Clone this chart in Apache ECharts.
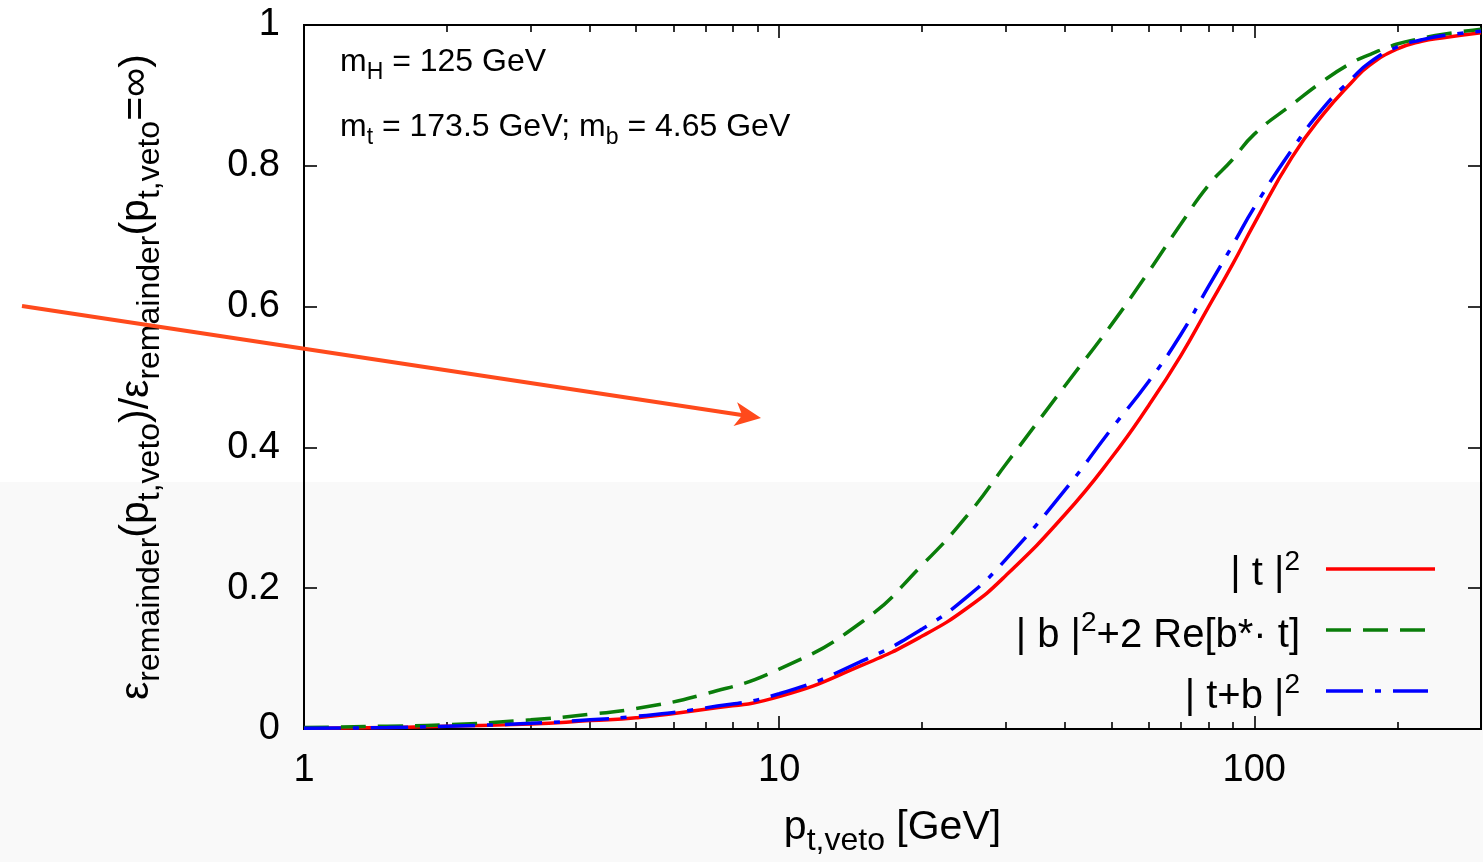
<!DOCTYPE html>
<html>
<head>
<meta charset="utf-8">
<script src="https://cdn.jsdelivr.net/npm/echarts@6/dist/echarts.min.js"></script>
<style>
html,body{margin:0;padding:0;background:#fff;}
#chart{width:1483px;height:862px;}
</style>
</head>
<body>
<div id="chart"></div>
<script>
// ---- data ----
const ptVeto = [1, 1.5, 2, 3, 4, 5, 7, 10, 15, 20, 25, 30, 40, 50, 60, 70, 80, 90, 100, 120, 140, 160, 175, 200, 225, 250, 300];
const tSquared = [0.001, 0.002, 0.004, 0.007, 0.012, 0.016, 0.028, 0.046, 0.091, 0.132, 0.173, 0.218, 0.305, 0.385, 0.460, 0.530, 0.599, 0.660, 0.718, 0.812, 0.874, 0.918, 0.943, 0.966, 0.977, 0.982, 0.989];
const bInterference = [0.002, 0.004, 0.006, 0.013, 0.021, 0.029, 0.050, 0.085, 0.153, 0.233, 0.305, 0.376, 0.488, 0.574, 0.650, 0.717, 0.772, 0.809, 0.845, 0.887, 0.921, 0.946, 0.958, 0.973, 0.981, 0.987, 0.994];
const tbSquared = [0.001, 0.002, 0.004, 0.008, 0.013, 0.018, 0.030, 0.050, 0.097, 0.142, 0.189, 0.241, 0.340, 0.426, 0.494, 0.560, 0.628, 0.687, 0.741, 0.823, 0.883, 0.923, 0.947, 0.969, 0.979, 0.985, 0.991];

const xMajorTicks = [1, 10, 100];
const xMinorTicks = [2, 3, 4, 5, 6, 7, 8, 9, 20, 30, 40, 50, 60, 70, 80, 90, 200, 300];
const seriesNames = ['| t |{p|2}', '| b |{p|2}+2 Re[b*· t]', '| t+b |{p|2}'];
const annotation1 = '{m|m}{s|H}{m| = 125 GeV}';
const annotation2 = '{m|m}{s|t}{m| = 173.5 GeV; m}{s|b}{m| = 4.65 GeV}';
const xTitle = '{m|p}{s|t,veto}{m| [GeV]}';
const yTitle = '{m|ε}{s|remainder}{m|(p}{s|t,veto}{m|)/ε}{s|remainder}{m|(p}{s|t,veto}{m|=∞)}';

const FONT = 'Liberation Sans, Arial, Helvetica, sans-serif';
const colors = ['#ff0000', '#0a7d0a', '#0000ff'];
const dashes = ['solid', [25, 12], [37, 12, 6, 12]];

const pairs = arr => ptVeto.map((x, i) => [x, arr[i]]);

const titleRich = {
  m: {fontSize: 41, fontFamily: FONT, color: '#000', lineHeight: 58},
  s: {fontSize: 32, fontFamily: FONT, color: '#000', lineHeight: 32, verticalAlign: 'bottom'}
};

const chart = echarts.init(document.getElementById('chart'), null, {renderer: 'canvas'});

function xAxisDef(position, ticks, len, labels) {
  return {
    type: 'log', logBase: 10, min: 1, max: 300, gridIndex: 0, position: position,
    axisLine: {show: false, onZero: false},
    axisTick: {show: true, inside: true, length: len, customValues: ticks, lineStyle: {color: '#000', width: 1.6}},
    axisLabel: labels ? {show: true, customValues: xMajorTicks, fontSize: 38, fontFamily: FONT, color: '#000', margin: 23, showMinLabel: true, showMaxLabel: true} : {show: false},
    splitLine: {show: false}, minorTick: {show: false}
  };
}

const xAxes = [
  Object.assign(xAxisDef('bottom', xMajorTicks, 13, true), {
    name: xTitle, nameLocation: 'middle', nameGap: 70,
    nameTextStyle: {rich: titleRich}
  }),
  xAxisDef('bottom', xMinorTicks, 7, false),
  xAxisDef('top', xMajorTicks, 13, false),
  xAxisDef('top', xMinorTicks, 7, false)
];

const option = {
  backgroundColor: '#ffffff',
  animation: false,
  grid: {left: 304, right: 2, top: 25, bottom: 129, show: true, borderColor: '#000', borderWidth: 2, backgroundColor: 'transparent', containLabel: false},
  xAxis: xAxes,
  yAxis: [
    {
      type: 'value', min: 0, max: 1, interval: 0.2, position: 'left',
      name: yTitle, nameLocation: 'middle', nameGap: 138,
      nameTextStyle: {rich: titleRich},
      axisLine: {show: false},
      axisTick: {show: true, inside: true, length: 13, lineStyle: {color: '#000', width: 1.6}},
      axisLabel: {fontSize: 38, fontFamily: FONT, color: '#000', margin: 24},
      splitLine: {show: false}
    },
    {
      type: 'value', min: 0, max: 1, interval: 0.2, position: 'right',
      axisLine: {show: false},
      axisTick: {show: true, inside: true, length: 13, lineStyle: {color: '#000', width: 1.6}},
      axisLabel: {show: false}, splitLine: {show: false}
    }
  ],
  series: [tSquared, bInterference, tbSquared].map((arr, i) => ({
    name: seriesNames[i],
    type: 'line',
    xAxisIndex: 0, yAxisIndex: 0,
    data: pairs(arr),
    showSymbol: false, symbol: 'none',
    smooth: 0.5,
    lineStyle: {color: colors[i], width: 3.5, type: dashes[i]},
    z: 3 + i
  })),
  graphic: [
    {type: 'rect', z: -10, silent: true, shape: {x: 0, y: 482, width: 1483, height: 380}, style: {fill: '#f9f9f9'}},
    {type: 'text', x: 340, y: 62, z: 10, style: {text: annotation1, rich: {
      m: {fontSize: 32, fontFamily: FONT, fill: '#000', lineHeight: 44},
      s: {fontSize: 23, fontFamily: FONT, fill: '#000', lineHeight: 23, verticalAlign: 'bottom'}}, verticalAlign: 'middle', align: 'left'}},
    {type: 'text', x: 340, y: 127, z: 10, style: {text: annotation2, rich: {
      m: {fontSize: 32, fontFamily: FONT, fill: '#000', lineHeight: 44},
      s: {fontSize: 23, fontFamily: FONT, fill: '#000', lineHeight: 23, verticalAlign: 'bottom'}}, verticalAlign: 'middle', align: 'left'}},
    // legend
    ...seriesNames.map((nm, i) => ({
      type: 'text', x: 1300, y: 574 + i * 61.5, z: 10,
      style: {text: nm, fontSize: 40, fontFamily: FONT, fill: '#000', lineHeight: 52, align: 'right', verticalAlign: 'middle',
        rich: {p: {fontSize: 28, fontFamily: FONT, fill: '#000', lineHeight: 28, verticalAlign: 'top'}}}
    })),
    ...seriesNames.map((nm, i) => ({
      type: 'line', z: 10,
      shape: {x1: 1326, y1: 569 + i * 61, x2: i === 2 ? 1428 : 1435, y2: 569 + i * 61},
      style: {stroke: colors[i], lineWidth: 3.5, lineDash: i === 0 ? null : dashes[i]}
    })),
    // arrow annotation
    {type: 'line', z: 20, shape: {x1: 22, y1: 306, x2: 745, y2: 415.5}, style: {stroke: '#ff4a1c', lineWidth: 4}},
    {type: 'polygon', z: 20, shape: {points: [[761, 418], [737.1, 402.2], [742.2, 415.2], [733.5, 426.0]]}, style: {fill: '#ff4a1c'}}
  ]
};
chart.setOption(option);
</script>
</body>
</html>
